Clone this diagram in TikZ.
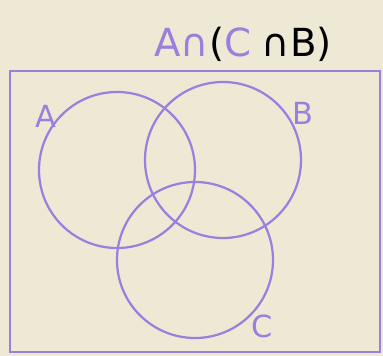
\documentclass[tikz,border=0pt]{standalone}
\usepackage{fontspec}
\setsansfont{DejaVu Sans}

\definecolor{paper}{RGB}{238,233,213}
\definecolor{ink}{RGB}{155,126,222}

\tikzset{
  setcircle/.style={draw=ink, circle, line width=1.9pt, inner sep=0pt, minimum size=4.68cm},
  setlabel/.style={text=ink, font=\sffamily\fontsize{26}{28}\selectfont}
}

\begin{document}
\begin{tikzpicture}[x=0.03cm, y=-0.03cm]
\fill[paper] (0,0) rectangle (383,356);

% universe
\node[draw=ink, line width=1.9pt, inner sep=0pt, minimum width=11.1cm, minimum height=8.43cm] (univ) at (195,211.5) {};

% the three sets
\node[setcircle] (setA) at (117,170) {};
\node[setcircle] (setB) at (223,160) {};
\node[setcircle] (setC) at (195,260) {};

\node[setlabel] (labA) at (46,116) {A};
\node[setlabel] (labB) at (303,113) {B};
\node[setlabel] (labC) at (262,326) {C};

% heading
\node[font=\sffamily\fontsize{33}{35}\selectfont] (title) at (243,44)
  {\textcolor{ink}{A∩}\textcolor{black}{(}\textcolor{ink}{C}\;\textcolor{black}{∩B)}};
\end{tikzpicture}
\end{document}
